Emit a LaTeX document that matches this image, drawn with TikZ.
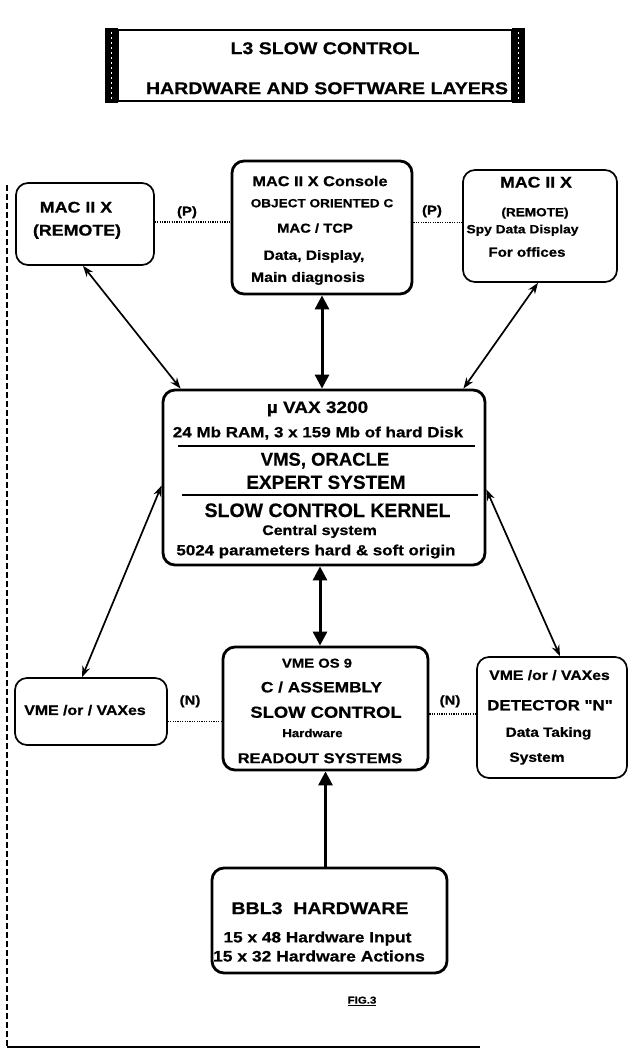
\documentclass[tikz,border=0pt]{standalone}
\usepackage{fontspec}
\setmainfont{Liberation Sans}
\newfontfamily\hv[FakeStretch=1.15,BoldFeatures={FakeBold=0.7}]{Liberation Sans}
\newfontfamily\hn[BoldFeatures={FakeBold=0.4}]{Liberation Sans}
\usetikzlibrary{arrows.meta,calc}
\newcommand\lab[5]{\node[lbl,font=\hv\bfseries\fontsize{#4}{#4}\selectfont] (#1) at (#2,{#3+0.36*#4}) {#5};}
\newcommand\labn[5]{\node[lbl,font=\hn\bfseries\fontsize{#4}{#4}\selectfont] (#1) at (#2,{#3+0.36*#4}) {#5};}
\tikzset{
  box/.style={draw, rounded corners=12pt, line width=1.7pt, inner sep=0pt},
  bbox/.style={box, line width=2.8pt},
  lbl/.style={inner sep=0pt, anchor=base},
  dl/.style={line width=1.4pt, dash pattern=on 1.2pt off 1.2pt},
  da/.style={line width=1.7pt, {Stealth[length=11pt,width=8pt]}-{Stealth[length=11pt,width=8pt]}},
  va/.style={line width=3pt, {Triangle[length=14pt,width=14pt]}-{Triangle[length=14pt,width=14pt]}},
  vs/.style={line width=3pt, -{Triangle[length=14pt,width=14pt]}},
  rule/.style={line width=1.4pt}
}
\begin{document}
\begin{tikzpicture}[x=1pt,y=-1pt]
\useasboundingbox (0,0) rectangle (637,1055);
\fill[white] (0,0) rectangle (637,1055);

% outer frame
\draw[line width=1.2pt, dash pattern=on 6pt off 3pt] (7,185) -- (7,1047);
\draw[line width=1.5pt] (7,1047) -- (480,1047);

% title
\node[draw, line width=1.4pt, minimum width=394pt, minimum height=71pt, inner sep=0pt] (title) at (315,65.5) {};
\fill (105,28) rectangle (118,103);
\fill (512,28) rectangle (525,103);
\draw[white, line width=1.5pt, dash pattern=on 2pt off 3pt] (111.5,32) -- (111.5,99);
\draw[white, line width=1.5pt, dash pattern=on 2pt off 3pt] (518.5,32) -- (518.5,99);
\lab{t1}{325}{48}{17}{L3 SLOW CONTROL}
\lab{t2}{327}{88}{17}{HARDWARE AND SOFTWARE LAYERS}

% boxes
\node[box, minimum width=138pt, minimum height=82pt] (remL) at (85,224) {};
\node[bbox, minimum width=180pt, minimum height=133pt] (cons) at (322,227.5) {};
\node[box, minimum width=154pt, minimum height=112pt] (remR) at (540,226) {};
\node[bbox, minimum width=322pt, minimum height=175pt] (vax) at (324,477.5) {};
\node[box, minimum width=152pt, minimum height=67pt] (vmeL) at (91,711.5) {};
\node[bbox, minimum width=205pt, minimum height=123pt] (vmeC) at (325.5,708.5) {};
\node[box, minimum width=150pt, minimum height=121pt] (vmeR) at (552,717.5) {};
\node[bbox, minimum width=235pt, minimum height=105pt] (bbl) at (329.5,920.5) {};

% texts
\lab{a1}{76}{207}{15.5}{MAC II X}
\lab{a2}{77}{230}{15.5}{(REMOTE)}

\lab{c1}{320}{181}{14.2}{MAC II X Console}
\lab{c2}{322}{203}{11.8}{OBJECT ORIENTED C}
\lab{c3}{315}{228}{12.9}{MAC / TCP}
\lab{c4}{314}{255}{13.5}{Data, Display,}
\lab{c5}{308}{277}{13.7}{Main diagnosis}

\lab{r1}{536}{182}{15.4}{MAC II X}
\lab{r2}{535}{212}{11.8}{(REMOTE)}
\lab{r3}{522.5}{229}{12}{Spy Data Display}
\lab{r4}{527}{252}{13.1}{For offices}

\lab{p1}{187}{211}{13}{(P)}
\lab{p2}{432}{210}{13}{(P)}

\lab{v1}{317.5}{407}{16.5}{µ VAX 3200}
\lab{v2}{318}{432}{14.8}{24 Mb RAM, 3 x 159 Mb of hard Disk}
\labn{v3}{325}{459}{18.5}{VMS, ORACLE}
\labn{v4}{326}{482}{19}{EXPERT SYSTEM}
\labn{v5}{327.5}{510}{19.5}{SLOW CONTROL KERNEL}
\lab{v6}{319.5}{530}{13.9}{Central system}
\lab{v7}{316}{550}{14.7}{5024 parameters hard \& soft origin}
\draw[rule] (178,446) -- (475,446);
\draw[rule] (182,495) -- (478,495);

\lab{l1}{85}{710}{13.8}{VME /or / VAXes}
\lab{n1}{190}{700}{13}{(N)}
\lab{n2}{450}{700}{13}{(N)}

\lab{m1}{317}{663}{12.9}{VME OS 9}
\lab{m2}{321.5}{687}{15}{C / ASSEMBLY}
\lab{m3}{326}{712}{16}{SLOW CONTROL}
\lab{m4}{312.5}{733}{11.5}{Hardware}
\lab{m5}{320}{758}{14.3}{READOUT SYSTEMS}

\lab{d1}{549.5}{675}{13.7}{VME /or / VAXes}
\lab{d2}{550}{705}{14.7}{DETECTOR "N"}
\lab{d3}{548.5}{732}{13.3}{Data Taking}
\lab{d4}{537}{757}{13.5}{System}

\lab{b1}{320}{908}{17}{BBL3 \ HARDWARE}
\lab{b2}{317.5}{937}{15}{15 x 48 Hardware Input}
\lab{b3}{319}{956}{15.2}{15 x 32 Hardware Actions}

\lab{fig}{362}{1000}{10}{\underline{FIG.3}}

% dotted links
\draw[dl] ([yshift=2pt]remL.east) -- ([yshift=2pt]remL.east -| cons.west);
\draw[dl] ([yshift=5pt]cons.east) -- ([yshift=5pt]cons.east -| remR.west);
\draw[dl] ([yshift=-10pt]vmeL.east) -- ([yshift=-10pt]vmeL.east -| vmeC.west);
\draw[dl] ([yshift=-5.5pt]vmeC.east) -- ([yshift=-5.5pt]vmeC.east -| vmeR.west);

% arrows
\draw[da] ([xshift=-2pt]remL.south) -- ([xshift=19pt]vax.north west);
\draw[da] ([xshift=-2pt]remR.south) -- ([xshift=-23pt]vax.north east);
\draw[da] ([yshift=-8pt]vax.west) -- ([xshift=-9pt]vmeL.north);
\draw[da] ([yshift=-12pt]vax.east) -- ([xshift=8pt]vmeR.north);
\draw[va] (cons.south) -- (cons.south |- vax.north);
\draw[va] ([xshift=-4pt]vax.south) -- ([xshift=-4pt]vax.south |- vmeC.north);
\draw[vs] ([xshift=-4pt]bbl.north) -- ([xshift=-4pt]bbl.north |- vmeC.south);
\end{tikzpicture}
\end{document}
